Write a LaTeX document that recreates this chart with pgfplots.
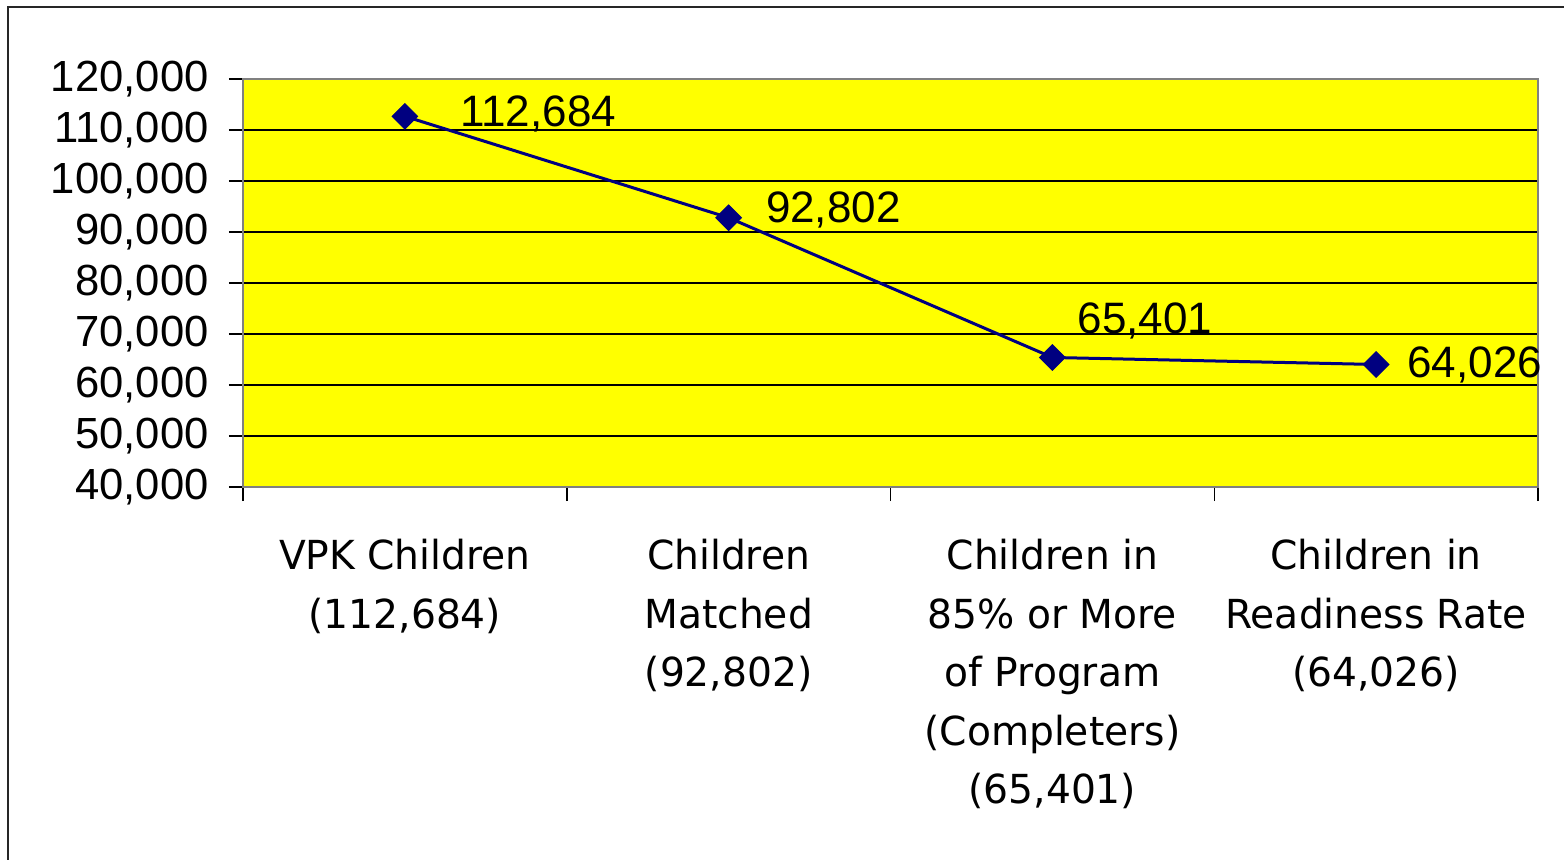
\documentclass[border=0pt]{standalone}
\usepackage{fontspec}
\setmainfont{Liberation Sans}
\newfontfamily\dejavu[FakeStretch=0.98]{DejaVu Sans}
\usepackage{pgfplots}
\pgfplotsset{compat=1.18}
\definecolor{plotyellow}{RGB}{255,255,0}
\definecolor{navyline}{RGB}{0,0,128}
\definecolor{framegray}{RGB}{128,128,128}
\tikzset{datalabel/.style={anchor=base west, inner sep=0pt, font=\fontsize{22}{26}\selectfont}}

\begin{document}
\begin{tikzpicture}
\useasboundingbox (0,0) rectangle (782pt,429.5pt);
% outer chart frame, cut off at the right and bottom edges
\draw[line width=1pt, black!85] (4pt,-30pt) rectangle (820pt,426pt);
\begin{axis}[
    at={(121.5pt,186pt)}, anchor=south west,
    scale only axis, width=647.5pt, height=204pt,
    xmin=0.5, xmax=4.5,
    ymin=40000, ymax=120000,
    clip=false,
    axis background/.style={fill=plotyellow},
    axis line style={draw=framegray, line width=1.2pt},
    tick align=outside,
    xtick pos=left, ytick pos=left,
    xtick={0.5,1.5,2.5,3.5,4.5},
    x tick label as interval,
    xticklabels={{VPK Children\\(112,684)},
                 {Children\\Matched\\(92,802)},
                 {Children in\\85\% or More\\of Program\\(Completers)\\(65,401)},
                 {Children in\\Readiness Rate\\(64,026)}},
    major tick length=7pt,
    tick style={black, line width=0.75pt},
    ytick={40000,50000,...,120000},
    scaled y ticks=false,
    ymajorgrids,
    major grid style={black, line width=0.75pt},
    xticklabel style={anchor=north, inner sep=0pt, align=center, yshift=-19pt,
        font=\dejavu\fontsize{20}{29.25}\selectfont},
    yticklabel style={anchor=east, inner sep=0pt, xshift=-10pt,
        font=\fontsize{21.8}{26}\selectfont,
        /pgf/number format/.cd, fixed, precision=0, 1000 sep={,}, assume math mode=true},
]
\addplot[navyline, line width=1.5pt, mark=square*, mark size=4.5pt,
    mark options={rotate=45, fill=navyline, draw=navyline, line width=0.5pt}]
    coordinates {(1,112684) (2,92802) (3,65401) (4,64026)};
\node[datalabel, xshift=27.5pt, yshift=-5pt] at (axis cs:1,112684) {112,684};
\node[datalabel, xshift=18.5pt, yshift=-2.5pt] at (axis cs:2,92802) {92,802};
\node[datalabel, xshift=12.5pt, yshift=12pt] at (axis cs:3,65401) {65,401};
\node[datalabel, xshift=15.5pt, yshift=-6.5pt] at (axis cs:4,64026) {64,026};
\end{axis}
\end{tikzpicture}
\end{document}
